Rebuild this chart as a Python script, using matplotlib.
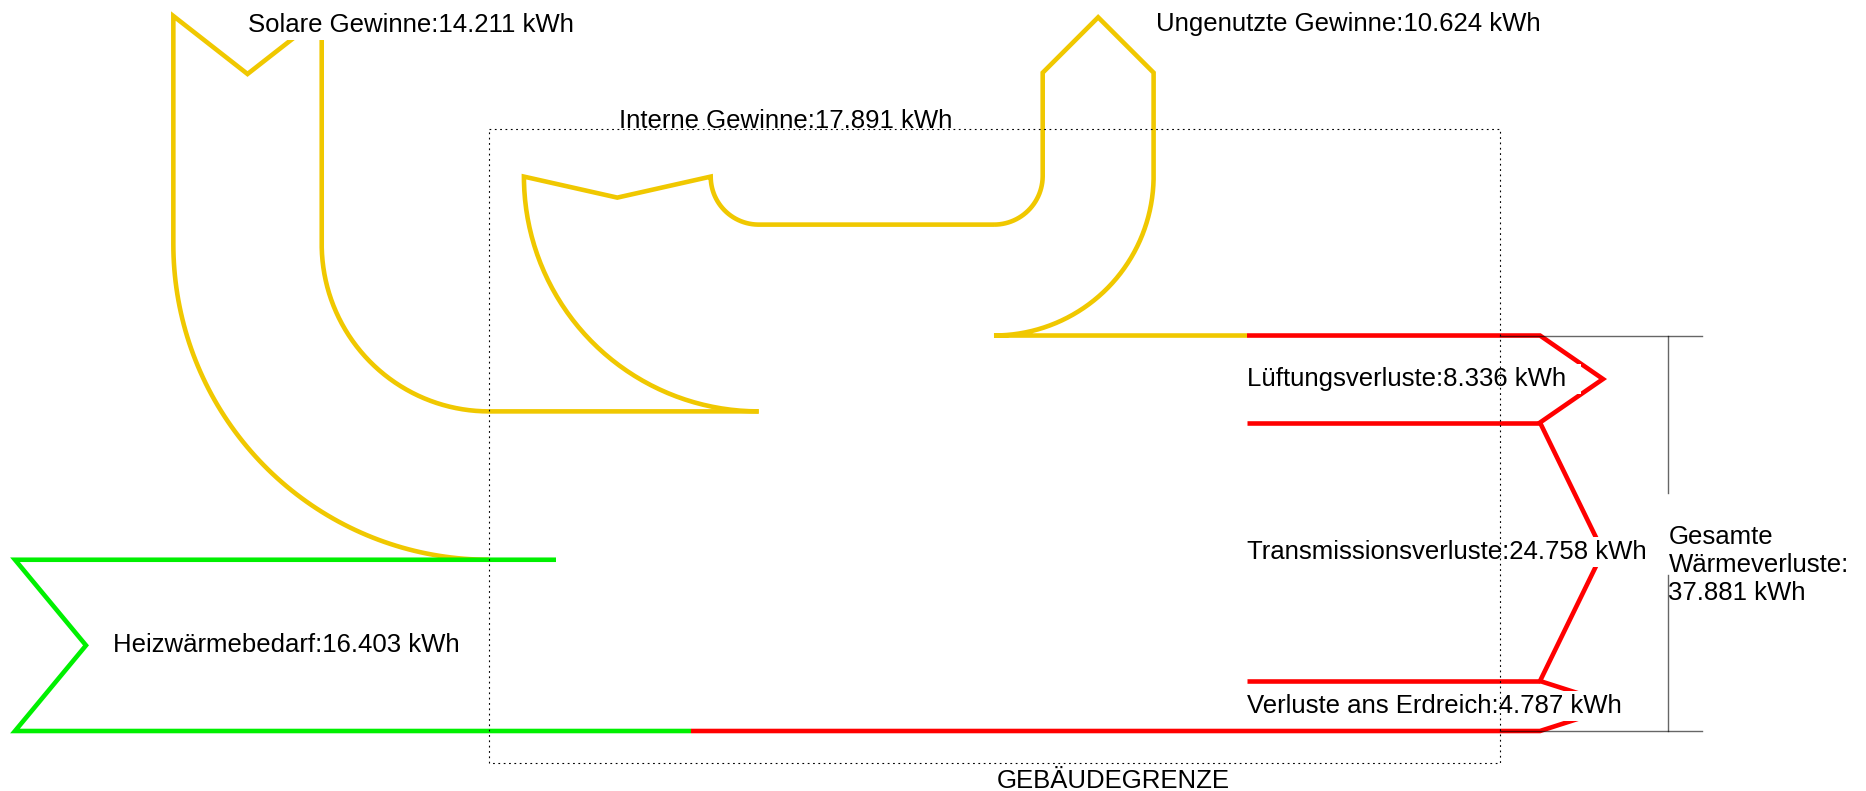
import numpy as np
import matplotlib
matplotlib.use("Agg")
import matplotlib.pyplot as plt
from matplotlib.patches import Rectangle

# ---------------- data (kWh) ----------------
input_names = ["Heizwärmebedarf", "Solare Gewinne", "Interne Gewinne"]
input_values = [16403, 14211, 17891]
unused_name = "Ungenutzte Gewinne"
unused_value = 10624
loss_names = ["Lüftungsverluste", "Transmissionsverluste", "Verluste ans Erdreich"]
loss_values = [8336, 24758, 4787]
total_loss_title = "Gesamte\nWärmeverluste:"
boundary_label = "GEBÄUDEGRENZE"
unit = "kWh"


def fmt(v):
    return f"{v:,}".replace(",", ".") + " " + unit


# ---------------- layout / style ----------------
W, H = 1866, 791
S = 0.01044            # pixels per kWh of flow width
Y0 = 731               # bottom edge of the main trunk
C_YEL, C_GRN, C_RED = "#F0C800", "#00F000", "#FF0000"
LW = 3.3
FS = 18.5
FONT = "Liberation Sans"
PAD_X, PAD_Y = 15, 3   # white label backgrounds (pixels)

X_HEIZ, HEIZ_NOTCH, X_HEIZ_TOP_END, X_GREEN_END = 15, 71, 556, 691
X_MERGE, R_S, SOL_TOP, SOL_NOTCH = 489, 167.3, 16, 58
X_INT_C, R_I, INT_TOP, INT_NOTCH = 758.7, 48, 177, 21
X_UNG_C, R_U, UNG_SHOULDER, UNG_TIP = 994, 48.7, 72.7, 17.3
X_RED, X_OUT = 1247, 1540
HEADS = [63, 63, 78]
BOX = (489, 129, 1500, 763)
BR_X0, BR_X1, BR_XV, BR_GAP = 1500, 1701.5, 1667.5, (493, 575)

plt.rcParams["font.family"] = [FONT, "DejaVu Sans"]
fig = plt.figure(figsize=(W / 100, H / 100), dpi=100)
ax = fig.add_axes([0, 0, 1, 1])
ax.set_xlim(0, W)
ax.set_ylim(H, 0)
ax.axis("off")


def arc(cx, cy, r, a0, a1, n=80):
    t = np.radians(np.linspace(a0, a1, n))
    return list(cx + r * np.cos(t)), list(cy + r * np.sin(t))


def draw(xs, ys, color, z=2):
    ax.plot(xs, ys, color=color, lw=LW, solid_joinstyle="miter",
            solid_capstyle="butt", zorder=z)


heiz, solar, interne = input_values
w_h, w_s, w_i = heiz * S, solar * S, interne * S
w_u = unused_value * S
y_heiz_top = Y0 - w_h
y_sol_top = y_heiz_top - w_s
y_int_top = y_sol_top - w_i
total_loss = sum(loss_values)
loss_edges = Y0 - total_loss * S + np.cumsum([0] + loss_values) * S
y_loss_top = loss_edges[0]

# ---- solar gains (input from top) ----
cy_s = y_sol_top - R_S
ro = R_S + w_s
xs, ys = arc(X_MERGE, cy_s, ro, 90, 180)
x_sl, x_sr = X_MERGE - ro, X_MERGE - R_S
xs += [x_sl, (x_sl + x_sr) / 2, x_sr, x_sr]
ys += [SOL_TOP, SOL_TOP + SOL_NOTCH, SOL_TOP, cy_s]
ax2, ay2 = arc(X_MERGE, cy_s, R_S, 180, 90)
xs += ax2 + [X_INT_C]
ys += ay2 + [y_sol_top]
draw(xs, ys, C_YEL)
sol_mid = (x_sl + x_sr) / 2

# ---- internal gains (input from top) ----
cy_i = y_int_top - R_I
ro = R_I + w_i
xs, ys = arc(X_INT_C, cy_i, ro, 90, 180)
x_il, x_ir = X_INT_C - ro, X_INT_C - R_I
top_i = min(INT_TOP, cy_i)
xs += [x_il, (x_il + x_ir) / 2, x_ir, x_ir]
ys += [top_i, top_i + INT_NOTCH, top_i, cy_i]
ax2, ay2 = arc(X_INT_C, cy_i, R_I, 180, 90)
xs += ax2 + [X_UNG_C]
ys += ay2 + [y_int_top]
draw(xs, ys, C_YEL)
int_mid = (x_il + x_ir) / 2

# ---- unused gains (output to top) ----
cy_u = y_int_top - R_U
xs, ys = arc(X_UNG_C, cy_u, R_U, 90, 0)
x_ul, x_ur = X_UNG_C + R_U, X_UNG_C + R_U + w_u
xs += [x_ul, (x_ul + x_ur) / 2, x_ur, x_ur]
ys += [UNG_SHOULDER, UNG_TIP, UNG_SHOULDER, cy_u]
ax2, ay2 = arc(X_UNG_C, cy_u, R_U + w_u, 0, 90)
xs += ax2 + [X_RED]
ys += ay2 + [y_loss_top]
draw(xs, ys, C_YEL)

# ---- losses (outputs to the right) ----
xs, ys = [X_RED, X_OUT], [y_loss_top, y_loss_top]
for i, head in enumerate(HEADS):
    top, bot = loss_edges[i], loss_edges[i + 1]
    xs += [X_OUT + head, X_OUT]
    ys += [(top + bot) / 2, bot]
    if i < len(HEADS) - 1:
        draw([X_RED, X_OUT], [bot, bot], C_RED)
xs += [X_GREEN_END]
ys += [Y0]
draw(xs, ys, C_RED)

# ---- heating demand (input from left) ----
draw([X_GREEN_END, X_HEIZ, X_HEIZ + HEIZ_NOTCH, X_HEIZ, X_HEIZ_TOP_END],
     [Y0, Y0, (Y0 + y_heiz_top) / 2, y_heiz_top, y_heiz_top], C_GRN, z=2.1)

# ---- labels ----
tk = dict(fontsize=FS, color="black", ha="left", zorder=3)
labels = []
labels.append(ax.text(X_HEIZ + HEIZ_NOTCH + 27, (Y0 + y_heiz_top) / 2,
                      f"{input_names[0]}:{fmt(heiz)}", va="center", **tk))
labels.append(ax.text(sol_mid, 32, f"{input_names[1]}:{fmt(solar)}",
                      va="baseline", **tk))
labels.append(ax.text(int_mid + 2, 128, f"{input_names[2]}:{fmt(interne)}",
                      va="baseline", **tk))
labels.append(ax.text(x_ur + 2, 31, f"{unused_name}:{fmt(unused_value)}",
                      va="baseline", **tk))
for i, (n, v) in enumerate(zip(loss_names, loss_values)):
    labels.append(ax.text(X_RED, (loss_edges[i] + loss_edges[i + 1]) / 2,
                          f"{n}:{fmt(v)}", va="center", **tk))

# white backgrounds behind labels (they hide parts of the arrows)
renderer = fig.canvas.get_renderer()
inv = ax.transData.inverted()
for t in labels:
    e = t.get_window_extent(renderer)
    (x0, y0), (x1, y1) = inv.transform([(e.x0 - 2, e.y0 - PAD_Y),
                                        (e.x1 + PAD_X, e.y1 + PAD_Y)])
    ax.add_patch(Rectangle((min(x0, x1), min(y0, y1)), abs(x1 - x0),
                           abs(y1 - y0), fc="white", ec="none", zorder=2.5))

# ---- building boundary ----
bx0, by0, bx1, by1 = BOX
ax.plot([bx0, bx1, bx1, bx0, bx0], [by0, by0, by1, by1, by0], color="black",
        lw=0.8, linestyle=(0, (1.6, 3.2)), zorder=4)
ax.text((bx0 + bx1) / 2 + 2, 788, boundary_label, fontsize=FS, ha="left",
        va="baseline", zorder=4)

# ---- total loss bracket ----
gk = dict(color="black", alpha=0.6, lw=1.0, zorder=4)
ax.plot([BR_X0, BR_X1], [y_loss_top, y_loss_top], **gk)
ax.plot([BR_X0, BR_X1], [Y0, Y0], **gk)
ax.plot([BR_XV, BR_XV], [y_loss_top, BR_GAP[0]], **gk)
ax.plot([BR_XV, BR_XV], [BR_GAP[1], Y0], **gk)
ax.text(BR_XV + 1, 600, f"{total_loss_title}\n{fmt(total_loss)}", fontsize=FS,
        ha="left", va="baseline", linespacing=1.2, zorder=4)

fig.savefig("out.png", dpi=100)
